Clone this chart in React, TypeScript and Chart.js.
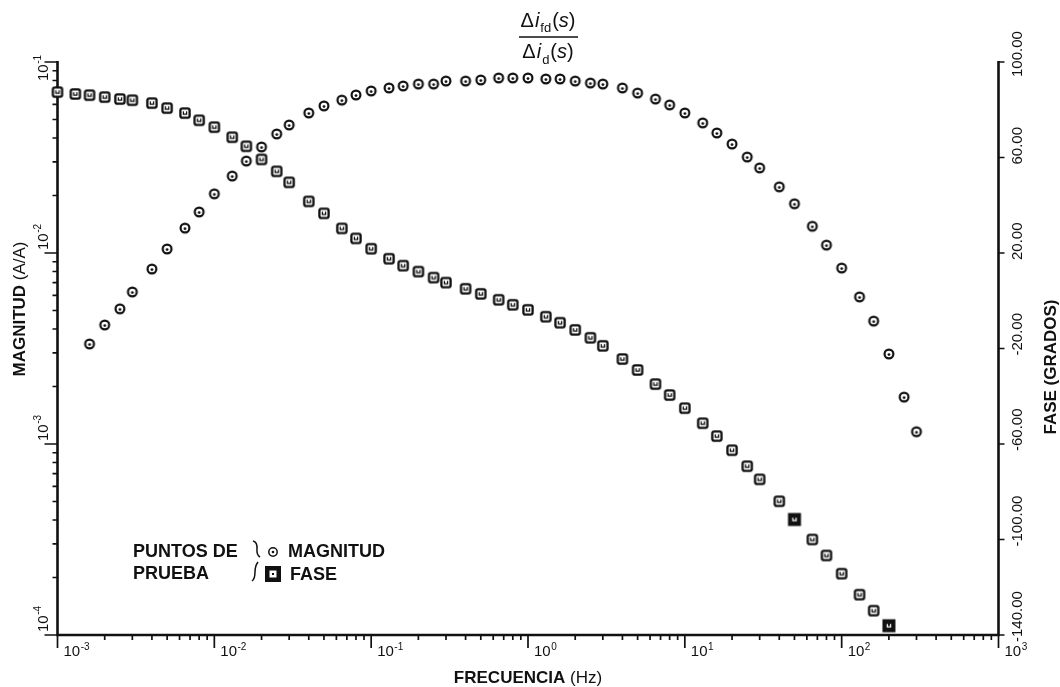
import { useEffect, useRef } from 'react';
import { Chart, registerables } from 'chart.js';

Chart.register(...registerables);

// Frecuencias de prueba (Hz) y magnitud |Δi_fd/Δi_d| (A/A)
const FREC_MAGNITUD = [
  0.0016, 0.002, 0.0025, 0.003, 0.004, 0.005, 0.0065, 0.008,
  0.01, 0.013, 0.016, 0.02, 0.025, 0.03, 0.04, 0.05, 0.065, 0.08,
  0.1, 0.13, 0.16, 0.2, 0.25, 0.3, 0.4, 0.5, 0.65, 0.8,
  1, 1.3, 1.6, 2, 2.5, 3, 4, 5, 6.5, 8,
  10, 13, 16, 20, 25, 30, 40, 50, 65, 80,
  100, 130, 160, 200, 250, 300,
];
const MAGNITUD = [
  0.00334, 0.0042, 0.0051, 0.00625, 0.00824, 0.0105, 0.0135, 0.0164,
  0.0204, 0.0253, 0.0303, 0.0359, 0.042, 0.0468, 0.0541, 0.0589, 0.0632, 0.0672,
  0.0705, 0.0731, 0.0749, 0.0767, 0.0767, 0.0795, 0.0795, 0.0805, 0.0825, 0.0825,
  0.0825, 0.0815, 0.0815, 0.0795, 0.0776, 0.0767, 0.0731, 0.0688, 0.064, 0.0596,
  0.0541, 0.048, 0.0425, 0.0372, 0.0318, 0.0279, 0.0222, 0.0181, 0.0138, 0.011,
  0.00834, 0.00589, 0.0044, 0.00296, 0.00176, 0.00116,
];

// Frecuencias de prueba (Hz) y fase (grados)
const FREC_FASE = [
  0.001, 0.0013, 0.0016, 0.002, 0.0025, 0.003, 0.004, 0.005, 0.0065, 0.008,
  0.01, 0.013, 0.016, 0.02, 0.025, 0.03, 0.04, 0.05, 0.065, 0.08,
  0.1, 0.13, 0.16, 0.2, 0.25, 0.3, 0.4, 0.5, 0.65, 0.8,
  1, 1.3, 1.6, 2, 2.5, 3, 4, 5, 6.5, 8,
  10, 13, 16, 20, 25, 30, 40, 50, 65, 80,
  100, 130, 160, 200,
];
const FASE = [
  87.4, 86.6, 86.1, 85.3, 84.5, 84.0, 82.8, 80.7, 78.6, 75.6,
  72.7, 68.5, 64.7, 59.2, 54.2, 49.6, 41.6, 36.6, 30.3, 26.1,
  21.8, 17.6, 14.7, 12.2, 9.7, 7.6, 5.0, 2.9, 0.4, -1.7,
  -3.8, -6.7, -9.2, -12.2, -15.5, -18.9, -24.4, -29.0, -34.9, -39.5,
  -45.0, -51.3, -56.7, -62.6, -69.3, -74.8, -84.0, -91.6, -100.0, -106.7,
  -114.3, -123.1, -129.8, -136.1,
];
// Puntos de fase marcados con cuadro relleno
const FASE_RELLENA = [50, 200];

// Ejes
const EXP_X = [-3, -2, -1, 0, 1, 2, 3];
const EXP_Y = [-4, -3, -2, -1];
const TICKS_FASE = [100, 60, 20, -20, -60, -100, -140];

const FUENTE = '"Liberation Sans", Arial, Helvetica, sans-serif';
const TINTA = '#111';

type Tipo = 'circulo' | 'cuadro' | 'relleno';

function marcador(tipo: Tipo): HTMLCanvasElement {
  const s = tipo === 'relleno' ? 18 : 14;
  const c = document.createElement('canvas');
  c.width = s;
  c.height = s;
  const g = c.getContext('2d')!;
  const m = s / 2;
  g.strokeStyle = TINTA;
  g.fillStyle = TINTA;
  if (tipo === 'circulo') {
    g.fillStyle = '#fff';
    g.beginPath();
    g.arc(m, m, 4.4, 0, Math.PI * 2);
    g.fill();
    g.lineWidth = 2.2;
    g.stroke();
    g.fillStyle = TINTA;
    g.beginPath();
    g.arc(m, m + 0.6, 1.4, 0, Math.PI * 2);
    g.fill();
  } else if (tipo === 'cuadro') {
    g.fillStyle = '#fff';
    g.beginPath();
    const anyG = g as any;
    if (anyG.roundRect) anyG.roundRect(m - 4.6, m - 4.6, 9.2, 9.2, 1.8);
    else g.rect(m - 4.6, m - 4.6, 9.2, 9.2);
    g.fill();
    g.lineWidth = 2.3;
    g.stroke();
    g.lineWidth = 1.3;
    g.beginPath();
    g.moveTo(m - 1.6, m - 1.8);
    g.lineTo(m - 1.6, m + 1.2);
    g.lineTo(m + 1.6, m + 1.2);
    g.lineTo(m + 1.6, m - 1.8);
    g.stroke();
  } else {
    g.fillRect(m - 6.5, m - 6.5, 13, 13);
    g.strokeStyle = '#fff';
    g.lineWidth = 1.3;
    g.beginPath();
    g.moveTo(m - 1.6, m - 1.8);
    g.lineTo(m - 1.6, m + 1.2);
    g.lineTo(m + 1.6, m + 1.2);
    g.lineTo(m + 1.6, m - 1.8);
    g.stroke();
  }
  return c;
}

// "10" con exponente, línea base en (x, y) del sistema actual
function potencia(ctx: CanvasRenderingContext2D, exp: number, x: number, y: number) {
  ctx.textAlign = 'left';
  ctx.textBaseline = 'alphabetic';
  ctx.font = `15px ${FUENTE}`;
  ctx.fillText('10', x, y);
  const w = ctx.measureText('10').width;
  ctx.font = `10px ${FUENTE}`;
  ctx.fillText(String(exp), x + w + 0.5, y - 6.5);
}

type Parte = { t: string; f: string; dy?: number; gap?: number };

function textoMixto(ctx: CanvasRenderingContext2D, partes: Parte[], cx: number, y: number) {
  let total = 0;
  const anchos = partes.map((p) => {
    ctx.font = p.f;
    const w = ctx.measureText(p.t).width + (p.gap || 0);
    total += w;
    return w;
  });
  let x = cx - total / 2;
  ctx.textAlign = 'left';
  ctx.textBaseline = 'alphabetic';
  partes.forEach((p, i) => {
    ctx.font = p.f;
    ctx.fillText(p.t, x, y + (p.dy || 0));
    x += anchos[i];
  });
}

const ejes = {
  id: 'ejes',
  beforeDatasetsDraw(chart: any) {
    const { ctx, chartArea } = chart;
    const { left: L, right: R, top: T, bottom: B } = chartArea;
    const sx = chart.scales.x;
    const sy = chart.scales.y;
    const sy2 = chart.scales.y2;
    ctx.save();
    ctx.strokeStyle = TINTA;
    ctx.lineWidth = 2.6;
    ctx.beginPath();
    ctx.moveTo(L, T - 1);
    ctx.lineTo(L, B);
    ctx.lineTo(R, B);
    ctx.lineTo(R, T - 1);
    ctx.stroke();

    ctx.lineWidth = 1.7;
    ctx.beginPath();
    // eje de frecuencia: décadas y subdivisiones
    EXP_X.forEach((e) => {
      const px = sx.getPixelForValue(Math.pow(10, e));
      ctx.moveTo(px, B);
      ctx.lineTo(px, B + 13);
      if (e < EXP_X[EXP_X.length - 1]) {
        for (let k = 2; k <= 9; k++) {
          const q = sx.getPixelForValue(k * Math.pow(10, e));
          ctx.moveTo(q, B);
          ctx.lineTo(q, B + 5);
        }
      }
    });
    // eje de magnitud
    EXP_Y.forEach((e) => {
      const py = sy.getPixelForValue(Math.pow(10, e));
      ctx.moveTo(L, py);
      ctx.lineTo(L - 13, py);
      if (e < EXP_Y[EXP_Y.length - 1]) {
        for (let k = 2; k <= 9; k++) {
          const q = sy.getPixelForValue(k * Math.pow(10, e));
          ctx.moveTo(L, q);
          ctx.lineTo(L - 5, q);
        }
      }
    });
    // eje de fase
    TICKS_FASE.forEach((v) => {
      const py = sy2.getPixelForValue(v);
      ctx.moveTo(R, py);
      ctx.lineTo(R + 6, py);
    });
    ctx.stroke();
    ctx.restore();
  },
  afterDraw(chart: any) {
    const { ctx, chartArea } = chart;
    const { left: L, right: R, bottom: B } = chartArea;
    const sx = chart.scales.x;
    const sy = chart.scales.y;
    const sy2 = chart.scales.y2;
    ctx.save();
    ctx.fillStyle = TINTA;

    // etiquetas de frecuencia
    EXP_X.forEach((e) => {
      const px = sx.getPixelForValue(Math.pow(10, e));
      potencia(ctx, e, px + 6, B + 21);
    });

    // etiquetas de magnitud (giradas)
    EXP_Y.forEach((e, i) => {
      const py = sy.getPixelForValue(Math.pow(10, e));
      const top = i === EXP_Y.length - 1;
      ctx.save();
      ctx.translate(L - 10, top ? py + 19 : py - 3);
      ctx.rotate(-Math.PI / 2);
      potencia(ctx, e, 0, 0);
      ctx.restore();
    });

    // etiquetas de fase (giradas)
    TICKS_FASE.forEach((v, i) => {
      const py = sy2.getPixelForValue(v);
      ctx.save();
      ctx.translate(R + 23, i === 0 ? py + 15 : py + 7);
      ctx.rotate(-Math.PI / 2);
      ctx.font = `15px ${FUENTE}`;
      ctx.textAlign = 'left';
      ctx.textBaseline = 'alphabetic';
      ctx.fillText(v.toFixed(2), 0, 0);
      ctx.restore();
    });

    // títulos de ejes
    textoMixto(
      ctx,
      [
        { t: 'FRECUENCIA ', f: `bold 17px ${FUENTE}` },
        { t: '(Hz)', f: `17px ${FUENTE}` },
      ],
      528,
      683,
    );
    ctx.save();
    ctx.translate(25, 309);
    ctx.rotate(-Math.PI / 2);
    textoMixto(
      ctx,
      [
        { t: 'MAGNITUD ', f: `bold 17px ${FUENTE}` },
        { t: '(A/A)', f: `17px ${FUENTE}` },
      ],
      0,
      0,
    );
    ctx.restore();
    ctx.save();
    ctx.translate(1056, 367);
    ctx.rotate(-Math.PI / 2);
    textoMixto(ctx, [{ t: 'FASE (GRADOS)', f: `bold 17px ${FUENTE}` }], 0, 0);
    ctx.restore();

    // función de transferencia
    const it = `italic 20px ${FUENTE}`;
    const rg = `20px ${FUENTE}`;
    const sb = `13px ${FUENTE}`;
    textoMixto(
      ctx,
      [
        { t: 'Δ', f: rg, gap: 1 },
        { t: 'i', f: it, gap: 1 },
        { t: 'fd', f: sb, dy: 5, gap: 1 },
        { t: '(', f: rg },
        { t: 's', f: it },
        { t: ')', f: rg },
      ],
      548,
      27,
    );
    textoMixto(
      ctx,
      [
        { t: 'Δ', f: rg, gap: 1 },
        { t: 'i', f: it, gap: 1 },
        { t: 'd', f: sb, dy: 6, gap: 1 },
        { t: '(', f: rg },
        { t: 's', f: it },
        { t: ')', f: rg },
      ],
      548,
      58,
    );
    ctx.strokeStyle = TINTA;
    ctx.lineWidth = 1.6;
    ctx.beginPath();
    ctx.moveTo(519, 37);
    ctx.lineTo(578, 37);
    ctx.stroke();

    // leyenda de puntos de prueba
    ctx.font = `bold 18px ${FUENTE}`;
    ctx.textAlign = 'left';
    ctx.textBaseline = 'alphabetic';
    ctx.fillText('PUNTOS DE', 133, 557);
    ctx.fillText('PRUEBA', 133, 579);
    ctx.fillText('MAGNITUD', 288, 557);
    ctx.fillText('FASE', 290, 580);

    ctx.lineWidth = 1.5;
    ctx.beginPath();
    ctx.moveTo(253, 541);
    ctx.quadraticCurveTo(257.5, 542, 257, 549);
    ctx.quadraticCurveTo(256.5, 555, 260, 557);
    ctx.moveTo(258, 562);
    ctx.quadraticCurveTo(255, 566, 255, 572);
    ctx.quadraticCurveTo(255, 579, 252, 581);
    ctx.stroke();

    ctx.lineWidth = 1.5;
    ctx.fillStyle = '#fff';
    ctx.beginPath();
    ctx.arc(273, 552, 4.2, 0, Math.PI * 2);
    ctx.fill();
    ctx.stroke();
    ctx.fillStyle = TINTA;
    ctx.beginPath();
    ctx.arc(273, 552, 1.3, 0, Math.PI * 2);
    ctx.fill();

    ctx.fillRect(265, 566, 16, 16);
    ctx.fillStyle = '#fff';
    ctx.fillRect(269.5, 570.5, 7, 7);
    ctx.fillStyle = TINTA;
    ctx.fillRect(272, 573, 2, 2);
    ctx.restore();
  },
};

export default function App() {
  const ref = useRef<HTMLCanvasElement>(null);

  useEffect(() => {
    document.body.style.margin = '0';
    const canvas = ref.current!;
    const circulo = marcador('circulo');
    const cuadro = marcador('cuadro');
    const relleno = marcador('relleno');

    const chart = new Chart(canvas, {
      type: 'scatter',
      data: {
        datasets: [
          {
            label: 'MAGNITUD',
            data: FREC_MAGNITUD.map((f, i) => ({ x: f, y: MAGNITUD[i] })),
            yAxisID: 'y',
            pointStyle: circulo as any,
            pointRadius: 5,
            showLine: false,
            clip: false as any,
          },
          {
            label: 'FASE',
            data: FREC_FASE.map((f, i) => ({ x: f, y: FASE[i] })),
            yAxisID: 'y2',
            pointStyle: ((c: any) =>
              FASE_RELLENA.includes(FREC_FASE[c.dataIndex]) ? relleno : cuadro) as any,
            pointRadius: 5,
            showLine: false,
            clip: false as any,
          },
        ],
      },
      options: {
        animation: false,
        responsive: false,
        maintainAspectRatio: false,
        events: [],
        layout: { padding: { left: 57.5, right: 61.5, top: 62, bottom: 52 } },
        plugins: { legend: { display: false }, tooltip: { enabled: false } },
        scales: {
          x: { type: 'logarithmic', min: 1e-3, max: 1e3, display: false },
          y: { type: 'logarithmic', min: 1e-4, max: 1e-1, display: false },
          y2: { type: 'linear', position: 'right', min: -140, max: 100, display: false },
        },
      },
      plugins: [ejes],
    });
    return () => chart.destroy();
  }, []);

  return <canvas ref={ref} width={1060} height={687} style={{ display: 'block' }} />;
}
